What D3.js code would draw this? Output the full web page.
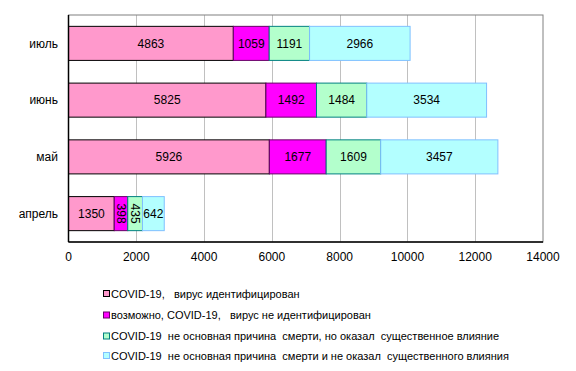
<!DOCTYPE html>
<html>
<head>
<meta charset="utf-8">
<script src="https://cdn.jsdelivr.net/npm/d3@7"></script>
<style>
  body { margin: 0; background: #fff; }
  text { font-family: "Liberation Sans", Arial, sans-serif; }
</style>
</head>
<body>
<div id="chart"></div>
<script>
// data
const months = ["июль", "июнь", "май", "апрель"];
const identified = [4863, 5825, 5926, 1350];
const possible = [1059, 1492, 1677, 398];
const contributing = [1191, 1484, 1609, 435];
const notContributing = [2966, 3534, 3457, 642];
const seriesNames = [
  "COVID-19,   вирус идентифицирован",
  "возможно, COVID-19,   вирус не идентифицирован",
  "COVID-19  не основная причина  смерти, но оказал  существенное влияние",
  "COVID-19  не основная причина  смерти и не оказал  существенного влияния"
];
const xTicks = [0, 2000, 4000, 6000, 8000, 10000, 12000, 14000];

const fills = ["#FF99CC", "#FF00FF", "#B3FFCC", "#B3FFFF"];
const strokes = ["#000000", "#660066", "#008080", "#80C0FF"];

let svgWidth = 576;
let svgHeight = 371;
let margin = { top: 15, left: 68.5, right: 33, bottom: 129 };

let svg = d3.select("#chart").append("svg")
  .attr("width", svgWidth)
  .attr("height", svgHeight);

let x = d3.scaleLinear()
  .domain([0, 14000])
  .range([margin.left, svgWidth - margin.right]);

let y = d3.scaleBand()
  .domain(months)
  .range([margin.top, svgHeight - margin.bottom])
  .paddingInner(0.4)
  .paddingOuter(0.2);

// build stacked rows
let rows = months.map((m, i) => ({
  month: m,
  s0: identified[i], s1: possible[i], s2: contributing[i], s3: notContributing[i]
}));
let stack = d3.stack().keys(["s0", "s1", "s2", "s3"]);
let layers = stack(rows);

// gridlines
svg.append("g")
  .selectAll("line")
  .data(xTicks.slice(1, -1))
  .enter().append("line")
  .attr("x1", d => Math.round(x(d)) + 0.5)
  .attr("x2", d => Math.round(x(d)) + 0.5)
  .attr("y1", margin.top)
  .attr("y2", svgHeight - margin.bottom)
  .style("stroke", "#C0C0C0")
  .style("stroke-width", 1);

// plot border (top/right grey)
svg.append("rect")
  .attr("x", x(0))
  .attr("y", margin.top)
  .attr("width", x(14000) - x(0))
  .attr("height", svgHeight - margin.bottom - margin.top)
  .style("fill", "none")
  .style("stroke", "#808080");

// bars
let groups = svg.append("g").selectAll("g")
  .data(layers)
  .enter().append("g");

groups.selectAll("rect")
  .data((d, i) => d.map(v => ({ v: v, i: i })))
  .enter().append("rect")
  .attr("x", d => x(d.v[0]))
  .attr("y", d => y(d.v.data.month))
  .attr("width", d => x(d.v[1]) - x(d.v[0]))
  .attr("height", y.bandwidth())
  .style("fill", d => fills[d.i])
  .style("stroke", d => strokes[d.i])
  .style("stroke-width", 1);

groups.selectAll("text")
  .data((d, i) => d.map(v => ({ v: v, i: i })))
  .enter().append("text")
  .attr("transform", d => {
    let cx = (x(d.v[0]) + x(d.v[1])) / 2;
    let cy = y(d.v.data.month) + y.bandwidth() / 2;
    // narrow segments get vertical labels
    return (d.v[1] - d.v[0]) < 500 ? `translate(${cx},${cy}) rotate(90)` : `translate(${cx},${cy})`;
  })
  .attr("text-anchor", "middle")
  .attr("dy", "0.35em")
  .style("font-size", "12px")
  .style("fill", "#000")
  .text(d => d.v[1] - d.v[0]);

// axes lines (black left and bottom)
svg.append("line")
  .attr("x1", x(0)).attr("x2", x(0))
  .attr("y1", margin.top).attr("y2", svgHeight - margin.bottom)
  .style("stroke", "#000").style("stroke-width", 1.5);
svg.append("line")
  .attr("x1", x(0)).attr("x2", x(14000))
  .attr("y1", svgHeight - margin.bottom).attr("y2", svgHeight - margin.bottom)
  .style("stroke", "#000").style("stroke-width", 1.5);

// x tick labels
svg.append("g").selectAll("text")
  .data(xTicks)
  .enter().append("text")
  .attr("x", d => x(d))
  .attr("y", svgHeight - margin.bottom + 19)
  .attr("text-anchor", "middle")
  .style("font-size", "12px")
  .text(d => d);

// category labels
svg.append("g").selectAll("text")
  .data(months)
  .enter().append("text")
  .attr("x", 58)
  .attr("y", d => y(d) + y.bandwidth() / 2)
  .attr("dy", "0.35em")
  .attr("text-anchor", "end")
  .style("font-size", "12px")
  .text(d => d);

// legend
let legendY = [294, 315.5, 336.5, 356];
let legend = svg.append("g").selectAll("g")
  .data(seriesNames)
  .enter().append("g")
  .attr("transform", (d, i) => `translate(103,${legendY[i]})`);

legend.append("rect")
  .attr("x", 0.5).attr("y", -3.5)
  .attr("width", 6).attr("height", 6)
  .style("fill", (d, i) => fills[i])
  .style("stroke", (d, i) => strokes[i]);

legend.append("text")
  .attr("x", 8)
  .attr("y", 0)
  .attr("dy", "0.35em")
  .style("font-size", "11px")
  .style("white-space", "pre")
  .text(d => d);
</script>
</body>
</html>
